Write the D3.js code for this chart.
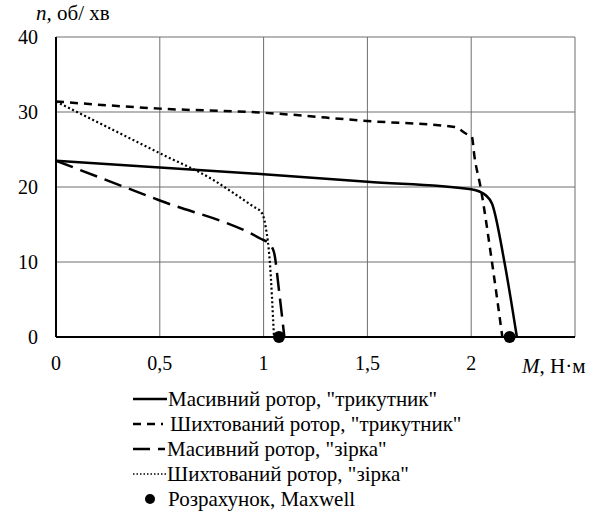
<!DOCTYPE html>
<html lang="uk">
<head>
<meta charset="utf-8">
<title>n(M)</title>
<script src="https://d3js.org/d3.v7.min.js"></script>
<style>
  body { margin: 0; background: #fff; }
  svg text { font-family: "Liberation Serif", Tinos, "Times New Roman", "DejaVu Serif", serif; }
</style>
</head>
<body>
<script>
// Значення
var masTriM = [0, 0.5, 1, 1.5, 2, 2.04, 2.07, 2.1, 2.16, 2.22];
var masTriN = [23.5, 22.6, 21.7, 20.7, 19.7, 19.4, 18.9, 17.8, 10, 0];

var shTriM = [0, 0.5, 1, 1.5, 1.92, 1.976, 2.003, 2.016, 2.045, 2.1, 2.15];
var shTriN = [31.4, 30.45, 29.9, 28.8, 28.0, 27.1, 26.7, 24, 20, 10, 0];

var masStarM = [0, 0.5, 0.986, 1.026, 1.05, 1.075, 1.1];
var masStarN = [23.5, 18.2, 13.1, 12.45, 11.3, 6, 0];

var shStarM = [0, 0.5, 0.76, 0.86, 0.95, 0.99, 1.01, 1.03, 1.05];
var shStarN = [31.4, 24.5, 20.9, 19.1, 17.4, 16.6, 14.7, 10, 0];

var maxwellM = [1.074, 2.185];
var maxwellN = [0, 0];

var xTicks = [0, 0.5, 1, 1.5, 2, 2.5];
var yTicks = [0, 10, 20, 30, 40];

var legendNames = [
  'Масивний ротор, "трикутник"',
  'Шихтований ротор, "трикутник"',
  'Масивний ротор, "зірка"',
  'Шихтований ротор, "зірка"',
  'Розрахунок, Maxwell'
];

var w = 597, h = 521;
var pLeft = 56, pRight = 575, pTop = 37, pBottom = 337;

var svg = d3.select("body").append("svg")
  .attr("width", w).attr("height", h);

var x = d3.scaleLinear().domain([0, 2.5]).range([pLeft, pRight]);
var y = d3.scaleLinear().domain([0, 40]).range([pBottom, pTop]);

// сітка
svg.append("g").selectAll("line").data(xTicks.slice(1)).enter().append("line")
  .attr("x1", d => x(d)).attr("x2", d => x(d))
  .attr("y1", pTop).attr("y2", pBottom)
  .attr("stroke", "#6e6e6e").attr("stroke-width", 1);
svg.append("g").selectAll("line").data(yTicks.slice(1)).enter().append("line")
  .attr("x1", pLeft).attr("x2", pRight)
  .attr("y1", d => y(d)).attr("y2", d => y(d))
  .attr("stroke", "#6e6e6e").attr("stroke-width", 1);

// осі
svg.append("line").attr("x1", pLeft).attr("x2", pLeft).attr("y1", pTop).attr("y2", pBottom)
  .attr("stroke", "#000").attr("stroke-width", 2);
svg.append("line").attr("x1", pLeft).attr("x2", pRight).attr("y1", pBottom).attr("y2", pBottom)
  .attr("stroke", "#000").attr("stroke-width", 2);

// підписи поділок
svg.append("g").selectAll("text").data(yTicks).enter().append("text")
  .attr("x", 38).attr("y", d => y(d)).attr("dy", "0.35em")
  .attr("text-anchor", "end").attr("font-size", 20)
  .text(d => d);
svg.append("g").selectAll("text").data(xTicks.slice(0, 5)).enter().append("text")
  .attr("x", d => x(d)).attr("y", 363).attr("dy", "0.35em")
  .attr("text-anchor", "middle").attr("font-size", 20)
  .text(d => String(d).replace(".", ","));

// назви осей
var yl = svg.append("text").attr("x", 36).attr("y", 20).attr("font-size", 21);
yl.append("tspan").attr("font-style", "italic").text("n");
yl.append("tspan").text(", об/ хв");
var xl = svg.append("text").attr("x", 522).attr("y", 373).attr("font-size", 21);
xl.append("tspan").attr("font-style", "italic").text("M");
xl.append("tspan").text(", Н·м");

// криві
var series = [
  { m: masTriM, n: masTriN, dash: null, sw: 2.5 },
  { m: shTriM, n: shTriN, dash: "8,6", sw: 2.5 },
  { m: masStarM, n: masStarN, dash: "18,8", sw: 2.5 },
  { m: shStarM, n: shStarN, dash: "2,2.5", sw: 2.2 }
];
var line = d3.line()
  .x(d => x(d[0])).y(d => y(d[1]))
  .curve(d3.curveMonotoneX);

svg.append("g").selectAll("path").data(series).enter().append("path")
  .attr("d", s => line(d3.zip(s.m, s.n)))
  .attr("fill", "none").attr("stroke", "#000")
  .attr("stroke-width", s => s.sw)
  .attr("stroke-dasharray", s => s.dash);

svg.append("g").selectAll("circle").data(d3.zip(maxwellM, maxwellN)).enter().append("circle")
  .attr("cx", d => x(d[0])).attr("cy", d => y(d[1])).attr("r", 6)
  .attr("fill", "#000");

// легенда
var lg = svg.append("g");
var rowY = [399, 424, 449, 474, 499];
var lx0 = 133, lx1 = 167;
lg.append("line").attr("x1", lx0).attr("x2", lx1).attr("y1", rowY[0]).attr("y2", rowY[0])
  .attr("stroke", "#000").attr("stroke-width", 2.5);
lg.append("line").attr("x1", lx0).attr("x2", lx1 - 4).attr("y1", rowY[1]).attr("y2", rowY[1])
  .attr("stroke", "#000").attr("stroke-width", 2.5).attr("stroke-dasharray", "8,6");
lg.append("line").attr("x1", lx0).attr("x2", lx1 - 2).attr("y1", rowY[2]).attr("y2", rowY[2])
  .attr("stroke", "#000").attr("stroke-width", 2.5).attr("stroke-dasharray", "17,8");
lg.append("line").attr("x1", lx0).attr("x2", lx1).attr("y1", rowY[3]).attr("y2", rowY[3])
  .attr("stroke", "#000").attr("stroke-width", 1.5).attr("stroke-dasharray", "1.5,2");
lg.append("circle").attr("cx", 150).attr("cy", rowY[4]).attr("r", 5).attr("fill", "#000");

var textX = [168, 170, 167, 167, 168];
lg.selectAll("text").data(legendNames).enter().append("text")
  .attr("x", (d, i) => textX[i]).attr("y", (d, i) => rowY[i]).attr("dy", "0.35em")
  .attr("font-size", 21)
  .text(d => d);
</script>
</body>
</html>
